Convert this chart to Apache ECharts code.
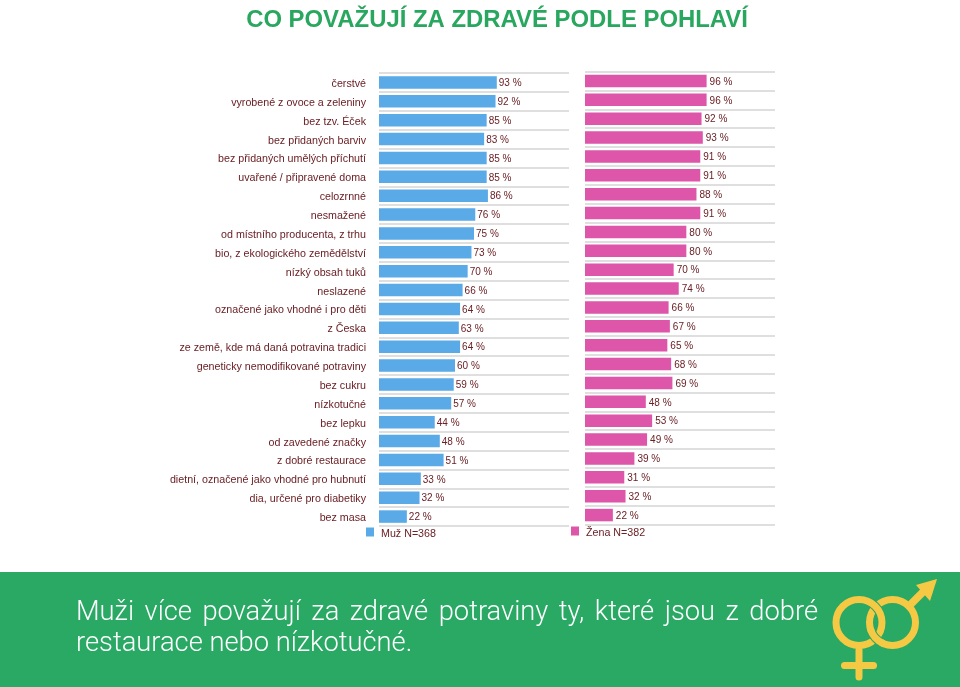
<!DOCTYPE html>
<html>
<head>
<meta charset="utf-8">
<title>Co považují za zdravé podle pohlaví</title>
<script src="https://cdn.jsdelivr.net/npm/echarts@6/dist/echarts.min.js"></script>
<style>
html, body { margin: 0; padding: 0; background: #fff; }
#main { width: 960px; height: 687px; }
</style>
</head>
<body>
<div id="main"></div>
<script>
var categories = ['čerstvé', 'vyrobené z ovoce a zeleniny', 'bez tzv. Éček', 'bez přidaných barviv',
    'bez přidaných umělých příchutí', 'uvařené / připravené doma', 'celozrnné', 'nesmažené',
    'od místního producenta, z trhu', 'bio, z ekologického zemědělství', 'nízký obsah tuků', 'neslazené',
    'označené jako vhodné i pro děti', 'z Česka', 'ze země, kde má daná potravina tradici',
    'geneticky nemodifikované potraviny', 'bez cukru', 'nízkotučné', 'bez lepku', 'od zavedené značky',
    'z dobré restaurace', 'dietní, označené jako vhodné pro hubnutí', 'dia, určené pro diabetiky', 'bez masa'];
var muzValues = [93, 92, 85, 83, 85, 85, 86, 76, 75, 73, 70, 66, 64, 63, 64, 60, 59, 57, 44, 48, 51, 33, 32, 22];
var zenaValues = [96, 96, 92, 93, 91, 91, 88, 91, 80, 80, 70, 74, 66, 67, 65, 68, 69, 48, 53, 49, 39, 31, 32, 22];
var muzName = 'Muž N=368';
var zenaName = 'Žena N=382';
var titleText = 'CO POVAŽUJÍ ZA ZDRAVÉ PODLE POHLAVÍ';
var noteLine1 = ['Muži', 'více', 'považují', 'za', 'zdravé', 'potraviny', 'ty,', 'které', 'jsou', 'z', 'dobré'];
var noteLine2 = 'restaurace nebo nízkotučné.';

var FONT = '"Liberation Sans", Arial, sans-serif';
var TEXT_COLOR = '#6b2025';
var YELLOW = '#f6c945';
var GREEN = '#29a964';

var myChart = echarts.init(document.getElementById('main'), null, { renderer: 'canvas' });

// first line of the note is justified, spaces are stretched to the full width
function justifiedWords(words, left, right, y, font) {
    var ctx = document.createElement('canvas').getContext('2d');
    ctx.font = font;
    var sum = 0;
    words.forEach(function (w) { sum += ctx.measureText(w).width; });
    var gap = (right - left - sum) / (words.length - 1);
    var x = left;
    return words.map(function (w) {
        var item = {
            type: 'text', z: 5,
            style: { x: x, y: y, text: w, font: font, fill: '#fff', textVerticalAlign: 'middle' }
        };
        x += ctx.measureText(w).width + gap;
        return item;
    });
}

function ring(cx, cy, r, color, width) {
    return {
        type: 'circle', z: 6,
        shape: { cx: cx, cy: cy, r: r },
        style: { fill: 'none', stroke: color, lineWidth: width }
    };
}

function arc(cx, cy, r, from, to, color, width) {
    return {
        type: 'arc', z: 6,
        shape: { cx: cx, cy: cy, r: r, startAngle: from * Math.PI / 180, endAngle: to * Math.PI / 180, clockwise: true },
        style: { fill: 'none', stroke: color, lineWidth: width }
    };
}

function stroke(x1, y1, x2, y2, width) {
    return {
        type: 'line', z: 6,
        shape: { x1: x1, y1: y1, x2: x2, y2: y2 },
        style: { stroke: YELLOW, lineWidth: width, lineCap: 'round' }
    };
}

function yAxisFor(gridIndex, showLabels) {
    return {
        type: 'category',
        gridIndex: gridIndex,
        inverse: true,
        data: categories,
        axisLine: { show: false },
        axisTick: { show: false },
        axisLabel: {
            show: showLabels,
            interval: 0,
            margin: 13,
            formatter: '{a|{value}}',
            rich: {
                // top padding pushes the text a little below the band centre
                a: { color: TEXT_COLOR, fontFamily: FONT, fontSize: 10.7, padding: [3, 0, 0, 0] }
            }
        },
        splitLine: { show: true, interval: 0, lineStyle: { color: '#d4d4d4', width: 1.5 } }
    };
}

function seriesFor(name, index, values, color, distance) {
    return {
        name: name,
        type: 'bar',
        xAxisIndex: index,
        yAxisIndex: index,
        data: values,
        barWidth: 12.5,
        itemStyle: { color: color },
        label: {
            show: true,
            position: 'right',
            distance: distance,
            offset: [0, 1],
            formatter: '{c} %',
            color: TEXT_COLOR,
            fontFamily: FONT,
            fontSize: 10
        },
        emphasis: { disabled: true }
    };
}

function legendFor(name, left, top) {
    return {
        data: [name],
        left: left,
        top: top,
        padding: 0,
        itemWidth: 8,
        itemHeight: 9,
        icon: 'rect',
        formatter: '{a|{name}}',
        textStyle: {
            rich: {
                a: { color: TEXT_COLOR, fontFamily: FONT, fontSize: 10.7, padding: [5, 0, 0, 2] }
            }
        }
    };
}

var noteFont = '300 27.3px Roboto, "Liberation Sans", sans-serif';

var option = {
    animation: false,
    title: {
        text: titleText,
        left: 492,
        top: 3,
        textAlign: 'center',
        textStyle: { color: '#29a75f', fontFamily: FONT, fontSize: 23.9, fontWeight: 'bold' }
    },
    legend: [legendFor(muzName, 366, 527.5), legendFor(zenaName, 571, 526.5)],
    grid: [
        { left: 379, top: 73, width: 190, height: 453 },
        { left: 585, top: 71.5, width: 190, height: 453 }
    ],
    xAxis: [
        { type: 'value', gridIndex: 0, min: 0, max: 150, show: false },
        { type: 'value', gridIndex: 1, min: 0, max: 150, show: false }
    ],
    yAxis: [yAxisFor(0, true), yAxisFor(1, false)],
    series: [
        seriesFor(muzName, 0, muzValues, '#5aaae8', 2),
        seriesFor(zenaName, 1, zenaValues, '#dd56a9', 3)
    ],
    graphic: [{
        type: 'rect', z: 1,
        shape: { x: 0, y: 572, width: 960, height: 115 },
        style: { fill: GREEN }
    }].concat(justifiedWords(noteLine1, 76, 818, 613, noteFont), [{
        type: 'text', z: 5,
        style: { x: 76, y: 644, text: noteLine2, font: noteFont, fill: '#fff', textVerticalAlign: 'middle' }
    },
        // gender symbol, the two rings are interlocked
        ring(892.5, 622.5, 23, YELLOW, 7),
        stroke(909, 606, 925, 590, 7.5),
        {
            type: 'polygon', z: 6,
            shape: { points: [[937, 579], [916, 585], [930, 601]] },
            style: { fill: YELLOW }
        },
        ring(859, 622.5, 23, GREEN, 9),
        ring(859, 622.5, 23, YELLOW, 7),
        arc(892.5, 622.5, 23, 120, 156, GREEN, 9),
        arc(892.5, 622.5, 23, 112, 165, YELLOW, 7),
        stroke(859, 650, 859, 677, 7),
        stroke(844.5, 665.5, 873.5, 665.5, 7)
    ])
};

myChart.setOption(option);
</script>
</body>
</html>
